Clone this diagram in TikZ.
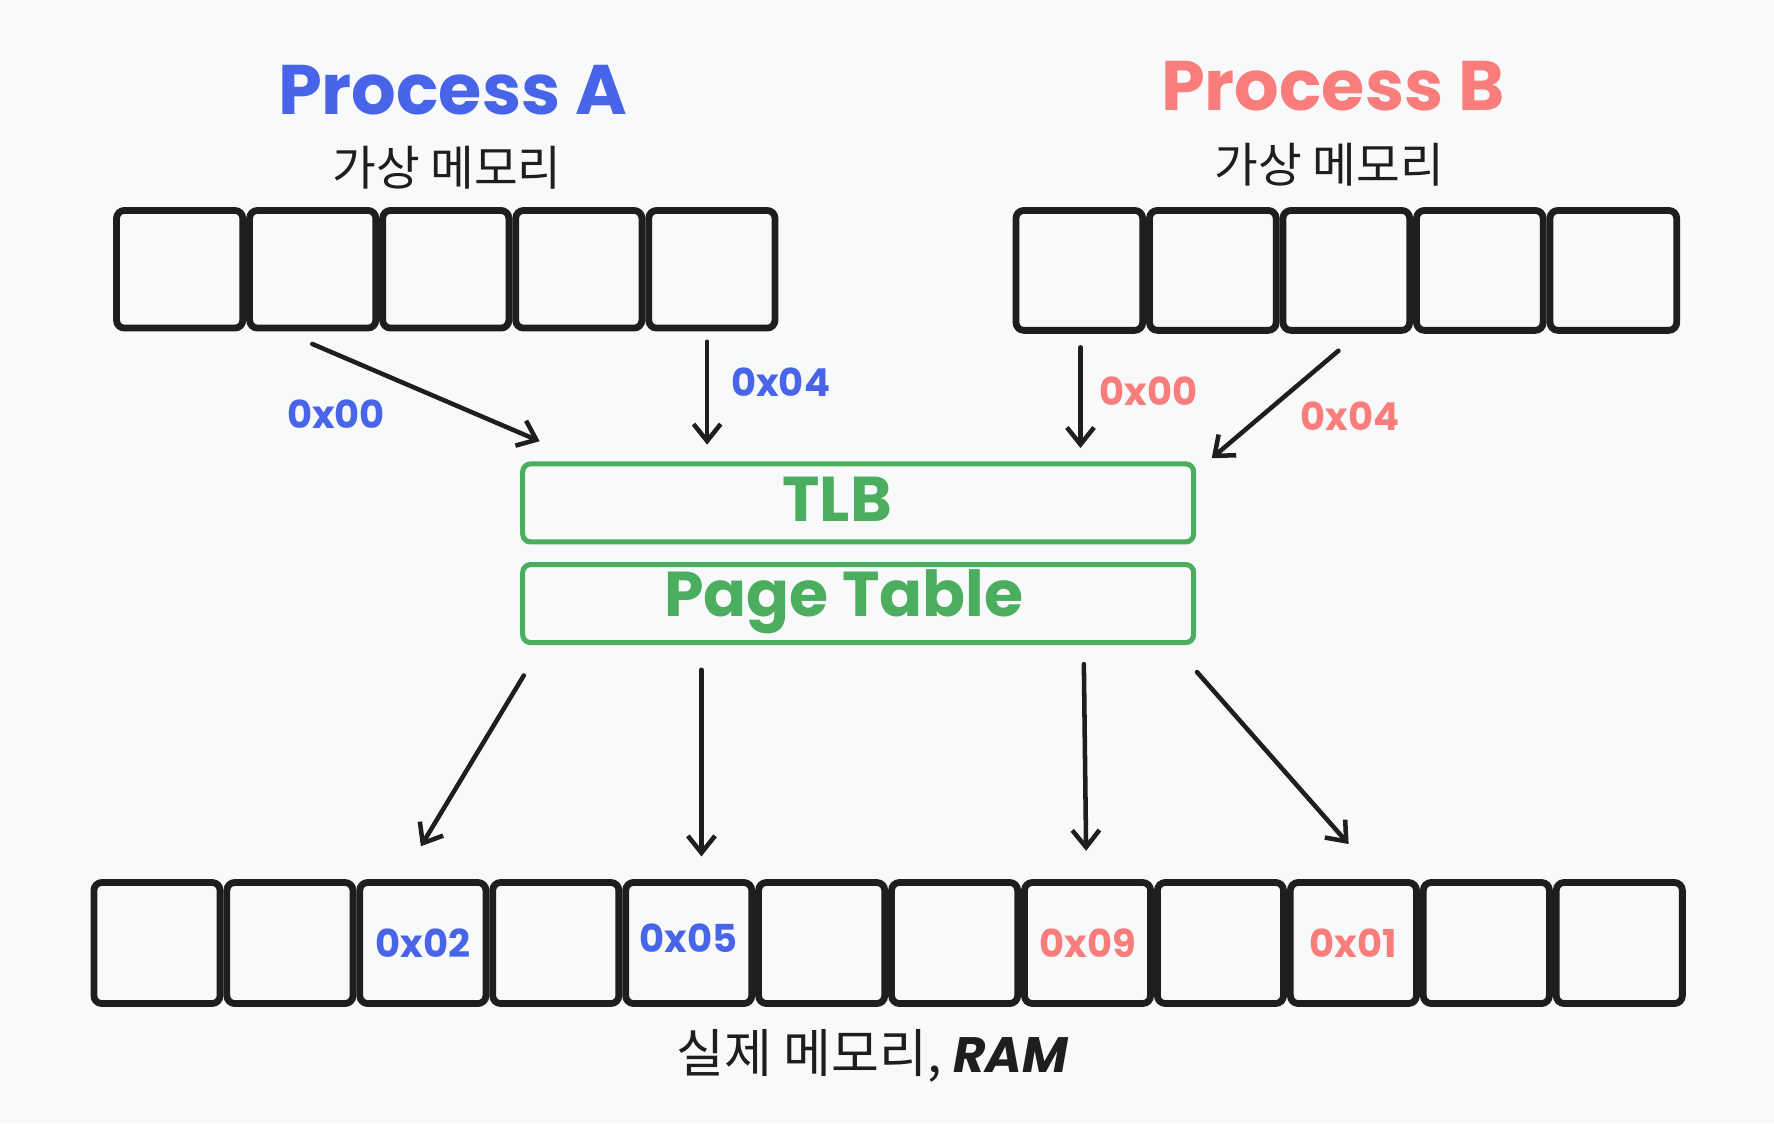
\documentclass[tikz,border=0pt]{standalone}
\usepackage{fontspec}
\setmainfont{Poppins}
\newfontfamily\kr{Noto Sans CJK KR}
\usetikzlibrary{arrows.meta,calc}
\definecolor{bg}{HTML}{F8F9FB}
\definecolor{ink}{HTML}{1E1E1E}
\definecolor{pblue}{HTML}{4864E8}
\definecolor{pred}{HTML}{F97D7B}
\definecolor{pgreen}{HTML}{4BAE5F}
\tikzset{
  cell/.style={draw=ink,line width=6pt,rounded corners=7pt,fill=bg,inner sep=0pt},
  cellA/.style={cell,minimum width=111.6pt,minimum height=104pt},
  cellB/.style={cell,minimum width=112pt,minimum height=106pt},
  cellR/.style={cell,minimum width=111.5pt,minimum height=107pt},
  gbox/.style={draw=pgreen,line width=4.5pt,rounded corners=7pt,minimum width=593pt,minimum height=69pt,inner sep=0pt},
  arr/.style={draw=ink,line width=4pt,line cap=round,-{Straight Barb[length=15pt,width=24pt,line width=4pt]}},
  title/.style={font=\fontsize{62}{62}\selectfont\bfseries},
  sub/.style={font=\kr\fontsize{42}{42}\selectfont,text=ink},
  addr/.style={font=\fontsize{34}{34}\selectfont\bfseries},
  glab/.style={font=\fontsize{56}{56}\selectfont\bfseries,text=pgreen,anchor=base}
}
\begin{document}
\begin{tikzpicture}[x=1pt,y=-1pt]
\fill[bg] (0,0) rectangle (1568,993);
\useasboundingbox (0,0) rectangle (1568,993);
% titles
\node[title,text=pblue] (tA) at (400,80) {Process A};
\node[title,text=pred] (tB) at (1178,76) {Process B};
\node[sub] (sA) at (395,148) {가상 메모리};
\node[sub] (sB) at (1175,146) {가상 메모리};
% process A cells
\foreach \i in {0,...,4}{
  \node[cellA] (a\i) at ({100+117.6*\i+58.8},238) {};
}
% process B cells
\foreach \i in {0,...,4}{
  \node[cellB] (b\i) at ({895+118*\i+59},239) {};
}
% RAM cells
\foreach \i in {0,...,11}{
  \node[cellR] (r\i) at ({80+117.5*\i+58.75},833.5) {};
}
\node[addr,text=pblue] (l2) at (r2) {0x02};
\node[addr,text=pblue] (l5) at ($(r4)+(0,-4)$) {0x05};
\node[addr,text=pred] (l9) at (r7) {0x09};
\node[addr,text=pred] (l1) at (r9) {0x01};
% TLB and page table
\node[gbox] (tlb) at (758.5,444.5) {};
\node[gbox] (pt) at (758.5,533.5) {};
\node[glab] (tlbt) at (740,461) {TLB};
\node[glab] (ptt) at (746,545) {Page Table};
% top arrows
\coordinate (s1) at (276,304); \coordinate (e1) at (477,390);
\coordinate (s2) at (625,302); \coordinate (e2) at (625,393);
\coordinate (s3) at (955,307); \coordinate (e3) at (955,396);
\coordinate (s4) at (1183,310); \coordinate (e4) at (1071,405);
\draw[arr] (s1) -- (e1);
\draw[arr] (s2) -- (e2);
\draw[arr] (s3) -- (e3);
\draw[arr] (s4) -- (e4);
\node[addr,text=pblue] (k1) at (297,366) {0x00};
\node[addr,text=pblue] (k2) at (690,338) {0x04};
\node[addr,text=pred] (k3) at (1015,346) {0x00};
\node[addr,text=pred] (k4) at (1193,368) {0x04};
% bottom arrows
\coordinate (d1) at (463,597); \coordinate (f1) at (372,748);
\coordinate (d2) at (620,592); \coordinate (f2) at (620,757);
\coordinate (d3) at (958,587); \coordinate (f3) at (960,752);
\coordinate (d4) at (1058,594); \coordinate (f4) at (1192,746);
\draw[arr] (d1) -- (f1);
\draw[arr] (d2) -- (f2);
\draw[arr] (d3) -- (f3);
\draw[arr] (d4) -- (f4);
% bottom label
\node[anchor=base,text=ink] (ram) at (771,948) {{\kr\fontsize{46}{46}\selectfont 실제 메모리,\ }{\fontsize{44}{44}\selectfont\bfseries\itshape RAM}};
\end{tikzpicture}
\end{document}
